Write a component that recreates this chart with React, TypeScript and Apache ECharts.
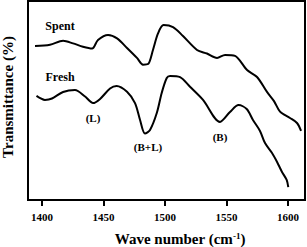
import React, { useEffect, useRef } from "react";
import * as echarts from "echarts";

const spentX = [1394.3, 1406.5, 1417.1, 1425.2, 1433.3, 1440.7, 1445.5, 1453.7, 1461.0, 1469.1, 1477.2, 1482.1, 1486.2, 1490.2, 1494.3, 1498.8, 1506.5, 1514.6, 1526.0, 1534.1, 1542.3, 1548.8, 1556.9, 1566.7, 1574.8, 1582.9, 1588.6, 1593.5, 1601.6, 1607.3, 1610.6];
const spentY = [77.4, 78.0, 80.0, 78.7, 77.0, 76.1, 80.4, 82.9, 81.2, 76.4, 71.4, 68.0, 68.3, 75.4, 83.7, 87.9, 86.9, 82.4, 75.4, 73.6, 71.4, 72.9, 72.4, 65.3, 61.8, 54.3, 49.7, 44.4, 41.2, 38.7, 34.7];
const freshX = [1395.5, 1402.4, 1408.1, 1417.1, 1426.8, 1435.0, 1441.5, 1447.2, 1455.3, 1460.6, 1469.1, 1475.6, 1479.7, 1483.7, 1487.8, 1493.3, 1497.3, 1501.4, 1504.1, 1512.2, 1520.3, 1530.9, 1544.7, 1552.8, 1559.8, 1566.4, 1571.5, 1577.2, 1581.3, 1587.0, 1591.1, 1595.1, 1598.9, 1600.2];
const freshY = [52.3, 50.3, 51.0, 54.3, 55.3, 52.0, 48.7, 50.8, 56.0, 57.3, 54.4, 48.7, 40.2, 33.4, 35.2, 43.7, 53.8, 61.3, 62.3, 61.7, 56.9, 50.3, 39.2, 44.2, 47.7, 45.7, 40.2, 34.7, 28.6, 23.6, 19.1, 14.1, 10.1, 6.5];
const xTicks = [1400, 1450, 1500, 1550, 1600];

const FONT = "'Liberation Serif', 'Times New Roman', serif";

export default function App() {
  const ref = useRef<HTMLDivElement>(null);
  useEffect(() => {
    const chart = echarts.init(ref.current!, undefined, { renderer: "svg" });
    const pairs = (xs: number[], ys: number[]) => xs.map((x, i) => [x, ys[i]]);
    chart.setOption({
      animation: false,
      grid: {
        left: 28,
        right: 2,
        top: 1,
        bottom: 47,
        show: true,
        borderColor: "#000",
        borderWidth: 2,
      },
      xAxis: {
        type: "value",
        min: 1388.6,
        max: 1613.8,
        splitLine: { show: false },
        axisLine: { show: true, lineStyle: { color: "#000", width: 2 } },
        axisTick: { show: true, length: 6, lineStyle: { color: "#000", width: 2 }, customValues: xTicks },
        axisLabel: {
          customValues: xTicks,
          formatter: (v: number) => String(v),
          color: "#000",
          fontFamily: FONT,
          fontWeight: "bold",
          fontSize: 11,
          margin: 11,
        },
      },
      yAxis: {
        type: "value",
        min: 0,
        max: 100,
        splitLine: { show: false },
        axisLine: { show: true, lineStyle: { color: "#000", width: 2 } },
        axisTick: { show: false },
        axisLabel: { show: false },
      },
      series: [
        {
          name: "Spent",
          type: "line",
          data: pairs(spentX, spentY),
          smooth: 0.3,
          showSymbol: false,
          lineStyle: { color: "#000", width: 2 },
        },
        {
          name: "Fresh",
          type: "line",
          data: pairs(freshX, freshY),
          smooth: 0.3,
          showSymbol: false,
          lineStyle: { color: "#000", width: 2 },
        },
      ],
      graphic: [
        { type: "text", x: 60, y: 26, style: { text: "Spent", font: `bold 12px ${FONT}`, fill: "#000", align: "center", verticalAlign: "middle" } },
        { type: "text", x: 60, y: 77, style: { text: "Fresh", font: `bold 12px ${FONT}`, fill: "#000", align: "center", verticalAlign: "middle" } },
        { type: "text", x: 93, y: 118, style: { text: "(L)", font: `bold 11px ${FONT}`, fill: "#000", align: "center", verticalAlign: "middle" } },
        { type: "text", x: 148, y: 147, style: { text: "(B+L)", font: `bold 11px ${FONT}`, fill: "#000", align: "center", verticalAlign: "middle" } },
        { type: "text", x: 220, y: 137, style: { text: "(B)", font: `bold 11px ${FONT}`, fill: "#000", align: "center", verticalAlign: "middle" } },
        {
          type: "text",
          x: 180,
          y: 239,
          style: {
            text: "{a|Wave number (cm}{s|-1}{a|)}",
            align: "center",
            verticalAlign: "middle",
            rich: {
              a: { fontFamily: FONT, fontWeight: "bold", fontSize: 15, fill: "#000", color: "#000" },
              s: { fontFamily: FONT, fontWeight: "bold", fontSize: 9, fill: "#000", color: "#000", verticalAlign: "top", padding: [0, 0, 6, 0] },
            },
          },
        },
        {
          type: "text",
          x: 8,
          y: 97,
          rotation: Math.PI / 2,
          style: { text: "Transmittance (%)", font: `bold 15px ${FONT}`, fill: "#000", align: "center", verticalAlign: "middle" },
        },
      ],
    });
    return () => chart.dispose();
  }, []);
  return <div ref={ref} style={{ width: 307, height: 247, position: "absolute", left: 0, top: 0 }} />;
}
